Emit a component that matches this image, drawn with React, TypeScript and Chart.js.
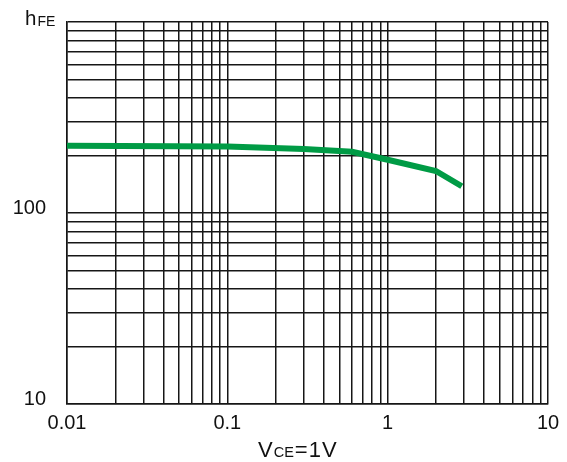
import React, { useEffect, useRef } from "react";
import { Chart, registerables } from "chart.js";

Chart.register(...registerables);

// Data
const vce: number[] = [0.01, 0.1, 0.3, 0.6, 1, 2, 2.9];
const hfe: number[] = [225, 223, 216, 209, 190, 166, 138];

// Axis ranges and grid tick values
const xDecades: number[] = [0.01, 0.1, 1];
const yDecades: number[] = [10, 100];
const mantissas: number[] = [1, 2, 3, 4, 5, 6, 7, 8, 9];
const xMin = 0.01, xMax = 10;
const yMin = 10, yMax = 1000;
const xLabels: number[] = [0.01, 0.1, 1, 10];
const yLabels: number[] = [10, 100];

const FONT = "'Liberation Sans', Arial, sans-serif";

function gridValues(decades: number[], last: number) {
  const out: number[] = [];
  decades.forEach((d) => mantissas.forEach((m) => out.push(parseFloat((d * m).toPrecision(6)))));
  out.push(last);
  return out;
}

function near(a: number, b: number) {
  return Math.abs(a - b) / b < 1e-6;
}

const titlePlugin = {
  id: "titles",
  afterDraw(chart: any) {
    const ctx = chart.ctx as CanvasRenderingContext2D;
    ctx.save();
    ctx.fillStyle = "#111";
    ctx.textBaseline = "alphabetic";
    ctx.textAlign = "left";
    // hFE
    ctx.font = `20.5px ${FONT}`;
    ctx.fillText("h", 25, 25);
    let w = ctx.measureText("h").width;
    ctx.font = `14px ${FONT}`;
    ctx.fillText("FE", 25 + w + 1, 26);
    // VCE=1V
    let x = 258;
    ctx.font = `22px ${FONT}`;
    ctx.fillText("V", x, 457);
    x += ctx.measureText("V").width + 1;
    ctx.font = `14.5px ${FONT}`;
    ctx.fillText("CE", x, 457);
    x += ctx.measureText("CE").width + 1;
    ctx.font = `22px ${FONT}`;
    ctx.fillText("=", x, 457);
    x += ctx.measureText("=").width + 1;
    ctx.fillText("1", x, 457);
    x += ctx.measureText("1").width + 1;
    ctx.fillText("V", x, 457);
    ctx.restore();
  },
};

export default function App() {
  const ref = useRef<HTMLCanvasElement | null>(null);
  useEffect(() => {
    document.body.style.margin = "0";
    const canvas = ref.current!;
    const points = vce.map((v, i) => ({ x: v, y: hfe[i] }));
    const gridColor = "#161616";
    const chart = new Chart(canvas, {
      type: "line",
      data: {
        datasets: [
          {
            data: points,
            borderColor: "#009b45",
            borderWidth: 6,
            pointRadius: 0,
            tension: 0,
            fill: false,
          },
        ],
      },
      options: {
        responsive: false,
        animation: false,
        layout: { padding: { top: 22, right: 19, left: 0, bottom: 0 } },
        plugins: { legend: { display: false }, tooltip: { enabled: false } },
        scales: {
          x: {
            type: "logarithmic",
            min: xMin,
            max: xMax,
            afterBuildTicks: (scale: any) => {
              scale.ticks = gridValues(xDecades, xMax).map((v) => ({ value: v }));
            },
            afterFit: (scale: any) => {
              scale.height = 58;
              scale.paddingLeft = 0;
              scale.paddingRight = 0;
            },
            grid: { color: gridColor, lineWidth: 1.5, drawTicks: false },
            border: { display: true, color: gridColor, width: 1.5 },
            ticks: {
              autoSkip: false,
              maxRotation: 0,
              padding: 7,
              color: "#111",
              font: { family: FONT, size: 20 },
              callback: (value: any) => {
                const v = Number(value);
                const m = xLabels.find((l) => near(v, l));
                return m !== undefined ? String(m) : "";
              },
            },
          },
          y: {
            type: "logarithmic",
            min: yMin,
            max: yMax,
            afterBuildTicks: (scale: any) => {
              scale.ticks = gridValues(yDecades, yMax).map((v) => ({ value: v }));
            },
            afterFit: (scale: any) => {
              scale.width = 67;
              scale.paddingTop = 0;
              scale.paddingBottom = 0;
            },
            grid: { color: gridColor, lineWidth: 1.5, drawTicks: false },
            border: { display: true, color: gridColor, width: 1.5 },
            ticks: {
              autoSkip: false,
              padding: 21,
              labelOffset: -5,
              color: "#111",
              font: { family: FONT, size: 20 },
              callback: (value: any) => {
                const v = Number(value);
                const m = yLabels.find((l) => near(v, l));
                return m !== undefined ? String(m) : "";
              },
            },
          },
        },
      },
      plugins: [titlePlugin],
    } as any);
    return () => chart.destroy();
  }, []);
  return (
    <div style={{ position: "fixed", left: 0, top: 0, width: 567, height: 462, background: "#fff" }}>
      <canvas ref={ref} width={567} height={462} style={{ display: "block" }} />
    </div>
  );
}
